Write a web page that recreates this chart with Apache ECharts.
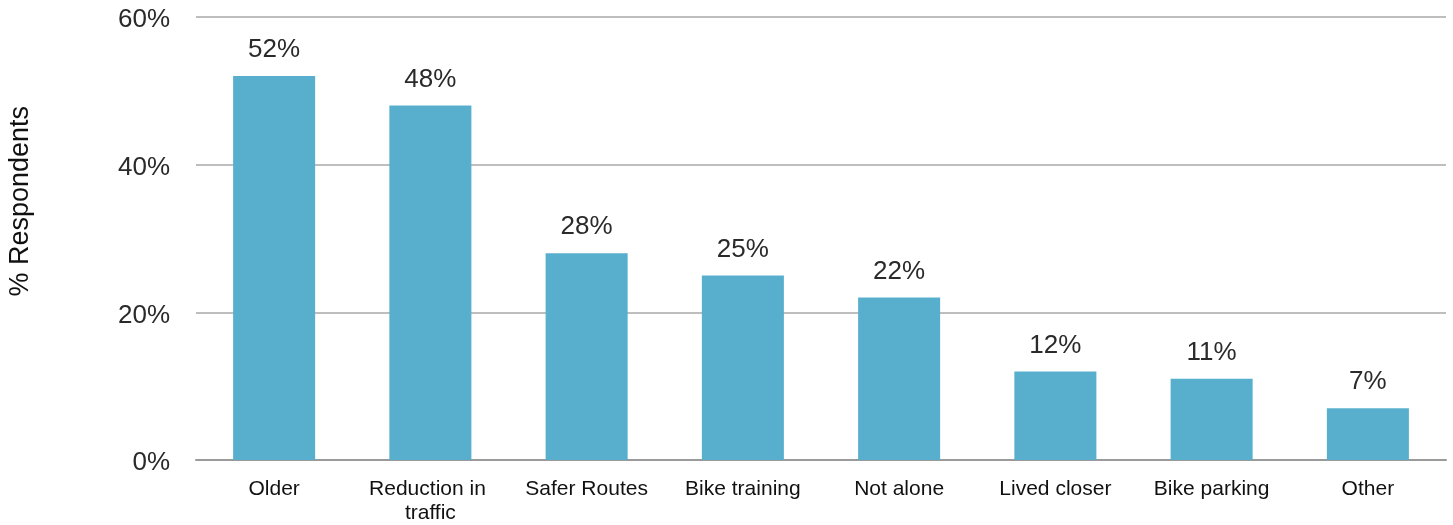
<!DOCTYPE html>
<html>
<head>
<meta charset="utf-8">
<script src="https://cdn.jsdelivr.net/npm/echarts@6/dist/echarts.min.js"></script>
<style>
  html, body { margin: 0; padding: 0; background: #fff; }
  #chart { width: 1453px; height: 525px; }
</style>
</head>
<body>
<div id="chart"></div>
<script>
// Reasons respondents gave, with share of respondents (%)
const categories = ['Older', 'Reduction in traffic', 'Safer Routes', 'Bike training', 'Not alone', 'Lived closer', 'Bike parking', 'Other'];
const shares = [52, 48, 28, 25, 22, 12, 11, 7];
const yTicks = [0, 20, 40, 60];

const FONT = '"Liberation Sans", "Helvetica Neue", Arial, sans-serif';

const chart = echarts.init(document.getElementById('chart'), null, { renderer: 'canvas' });

chart.setOption({
  animation: false,
  grid: { left: 196, right: 7, top: 17, bottom: 65, containLabel: false },
  xAxis: {
    type: 'category',
    data: categories,
    axisLine: { show: true, lineStyle: { color: '#9a9a9a', width: 2 } },
    axisTick: { show: false },
    axisLabel: {
      color: '#111',
      fontFamily: FONT,
      fontSize: 21,
      margin: 17,
      lineHeight: 24,
      width: 150,
      overflow: 'break',
      interval: 0
    }
  },
  yAxis: {
    type: 'value',
    min: yTicks[0],
    max: yTicks[yTicks.length - 1],
    interval: 20,
    axisLine: { show: false },
    axisTick: { show: false },
    splitLine: { show: true, lineStyle: { color: '#a8a8a8', width: 1.5 } },
    axisLabel: {
      color: '#2a2a2a',
      fontFamily: FONT,
      fontSize: 26,
      margin: 26,
      verticalAlign: 'top',
      lineHeight: 6,
      formatter: v => v + '%'
    }
  },
  graphic: [{
    type: 'text',
    left: 7,
    top: 106,
    rotation: Math.PI / 2,
    style: {
      text: '% Respondents',
      fontFamily: FONT,
      fontSize: 27,
      fill: '#111'
    }
  }],
  series: [{
    type: 'bar',
    data: shares,
    barWidth: '52.5%',
    itemStyle: { color: '#58AFCD' },
    label: {
      show: true,
      position: 'top',
      distance: 13,
      color: '#2a2a2a',
      fontFamily: FONT,
      fontSize: 26,
      formatter: p => p.value + '%'
    }
  }]
});
</script>
</body>
</html>
